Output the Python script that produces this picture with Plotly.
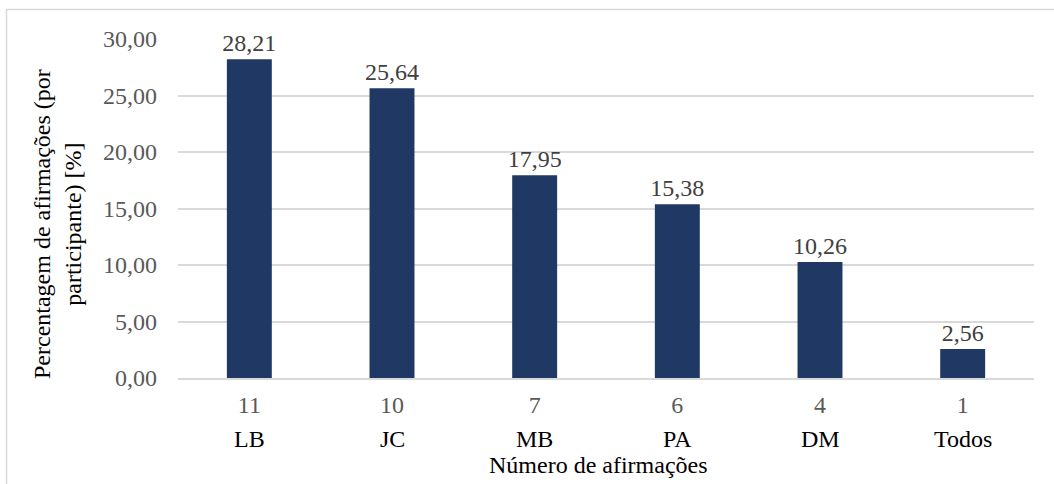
import plotly.graph_objects as go

names = ["LB", "JC", "MB", "PA", "DM", "Todos"]
counts = ["11", "10", "7", "6", "4", "1"]
values = [28.21, 25.64, 17.95, 15.38, 10.26, 2.56]
y_ticks = [0, 5, 10, 15, 20, 25, 30]

FONT = "Liberation Serif, Times New Roman, serif"
FS = 24
L, R, T, B = 178, 20, 39, 106
W, H = 1054, 484
pw, ph = W - L - R, H - T - B

fig = go.Figure()
fig.add_trace(go.Bar(
    x=names, y=values,
    marker=dict(color="#203864", line=dict(width=0)),
    width=0.315,
    text=values, texttemplate="%{y:.2f}", textposition="outside",
    constraintext="none",
    textfont=dict(family=FONT, size=FS, color="#404040"),
    cliponaxis=False,
))

for n in names:
    fig.add_annotation(x=n, y=0, yref="y", xref="x", text=n, showarrow=False,
                       xanchor="center", yanchor="middle", yshift=-61,
                       font=dict(family=FONT, size=FS, color="#000000"))

fig.add_annotation(xref="paper", yref="paper", x=(598 - L) / pw, y=(H - 465 - B) / ph,
                   xanchor="center", yanchor="middle",
                   text="Número de afirmações", showarrow=False,
                   font=dict(family=FONT, size=FS, color="#000000"))
fig.add_annotation(xref="paper", yref="paper", x=(57 - L) / pw, y=(H - 224 - B) / ph,
                   xanchor="center", yanchor="middle",
                   text="Percentagem de afirmações (por<br>participante) [%]",
                   showarrow=False, textangle=-90,
                   font=dict(family=FONT, size=FS, color="#000000"))

fig.add_shape(type="rect", xref="paper", yref="paper",
              x0=(6.5 - L) / pw, x1=(1060 - L) / pw,
              y0=(H - 495 - B) / ph, y1=(H - 9.5 - B) / ph,
              line=dict(color="#d9d9d9", width=1.5), layer="below")

fig.update_layout(
    width=W, height=H,
    margin=dict(l=L, r=R, t=T, b=B),
    paper_bgcolor="white", plot_bgcolor="white",
    separators=",.",
    showlegend=False,
    xaxis=dict(tickmode="array", tickvals=names, ticktext=counts,
               tickfont=dict(family=FONT, size=FS, color="#595959"),
               ticks="", showgrid=False, showline=True, linecolor="#d9d9d9",
               linewidth=1.5, ticklabelstandoff=4),
    yaxis=dict(range=[0, 30], tickvals=y_ticks, tickformat=".2f",
               tickfont=dict(family=FONT, size=FS, color="#595959"),
               showgrid=True, gridcolor="#d9d9d9", gridwidth=1.5,
               zeroline=False, ticks="", showline=False, ticklabelstandoff=20),
)

fig.write_html("out.html")
